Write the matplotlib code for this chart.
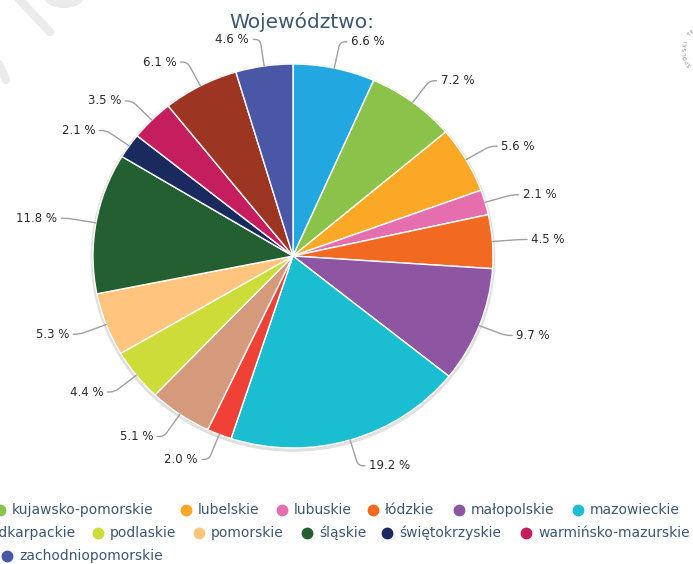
import matplotlib
matplotlib.use("Agg")
import matplotlib.pyplot as plt
import numpy as np

# data
regions = ["dolnośląskie", "kujawsko-pomorskie", "lubelskie", "lubuskie", "łódzkie",
           "małopolskie", "mazowieckie", "opolskie", "podkarpackie", "podlaskie",
           "pomorskie", "śląskie", "świętokrzyskie", "warmińsko-mazurskie",
           "wielkopolskie", "zachodniopomorskie"]
shares = [6.6, 7.2, 5.6, 2.1, 4.5, 9.7, 19.2, 2.0, 5.1, 4.4, 5.3, 11.8, 2.1, 3.5, 6.1, 4.6]
colors = ["#22a7e0", "#8bc34a", "#fba826", "#e56fae", "#f26a22", "#8e55a3",
          "#1bbdd0", "#ef4136", "#d59a7b", "#cddc39", "#ffc57f", "#235f31",
          "#1b2a5e", "#c41e5e", "#9c3522", "#4a56a6"]

W, H = 693, 564
fig = plt.figure(figsize=(W / 100, H / 100), dpi=100)

# background / overlay axes in pixel units (y from top)
bg = fig.add_axes([0, 0, 1, 1])
bg.set_xlim(0, W)
bg.set_ylim(H, 0)
bg.axis("off")

# faint watermark strokes
wm = dict(color="#ebebeb", lw=6, solid_capstyle="round", zorder=0)
bg.plot([16, 50], [-4, 32], **wm)
t = np.linspace(np.radians(200), np.radians(330), 30)
bg.plot(64 + 22 * np.cos(t), -14 - 18 * np.sin(t), **wm)
bg.plot([-2, 6], [62, 80], **wm)

# stamp at the right edge
stamp = "SPOLSKI TEA"
for i, ch in enumerate(stamp):
    a = np.radians(213 - i * 8.5)
    bg.text(712 + 27 * np.cos(a), 50 - 27 * np.sin(a), ch, fontsize=3.6,
            color="#8a8a8a", rotation=np.degrees(a) - 90, ha="center", va="center")

# pie axes (image is slightly wider than tall)
cx, cy, rx, ry = 293, 256, 200, 192
span = 1.5
ax = fig.add_axes([(cx - span * rx) / W, (H - cy - span * ry) / H,
                   2 * span * rx / W, 2 * span * ry / H])
ax.add_patch(plt.Circle((0.0, -0.008), 1.008, color="#e0e0e0", zorder=0))
wedges, _ = ax.pie(shares, colors=colors, startangle=90, counterclock=False,
                   radius=1, wedgeprops=dict(edgecolor="white", linewidth=1))
ax.set_xlim(-span, span)
ax.set_ylim(-span, span)
ax.set_aspect("auto")
ax.axis("off")

for w, v in zip(wedges, shares):
    ang = np.radians((w.theta1 + w.theta2) / 2)
    ca, sa = np.cos(ang), np.sin(ang)
    side = 1 if ca >= 0 else -1
    disp_ang = np.degrees(np.arctan2(ry * sa, rx * ca))
    ax.annotate(f"{v:.1f} %", xy=(ca, sa), xytext=(1.14 * ca + side * 0.055, 1.14 * sa),
                ha="left" if side > 0 else "right", va="center",
                fontsize=8.5, color="#2b2b2b",
                arrowprops=dict(arrowstyle="-", color="#a0a0a0", lw=1, shrinkA=1, shrinkB=0,
                                connectionstyle=f"angle,angleA=0,angleB={disp_ang},rad=5"))

fig.text(302 / W, 1 - 22 / H, "Województwo:", fontsize=14.5, color="#3e576f",
         ha="center", va="center")

# legend layout (dot x, row y), clipped at the figure edges like the reference
legend_x = [-125, 0, 186, 282, 373, 459, 578,
            -125, -30, 98, 199, 307, 387, 526, 716, 7]
legend_y = [510] * 7 + [533] * 8 + [556]
for name, col, lx, ly in zip(regions, colors, legend_x, legend_y):
    bg.plot(lx, ly, "o", ms=7.5, color=col, clip_on=False)
    bg.text(lx + 12, ly, name, fontsize=10, color="#3e576f", va="center", ha="left")

fig.savefig("out.png", dpi=100)
